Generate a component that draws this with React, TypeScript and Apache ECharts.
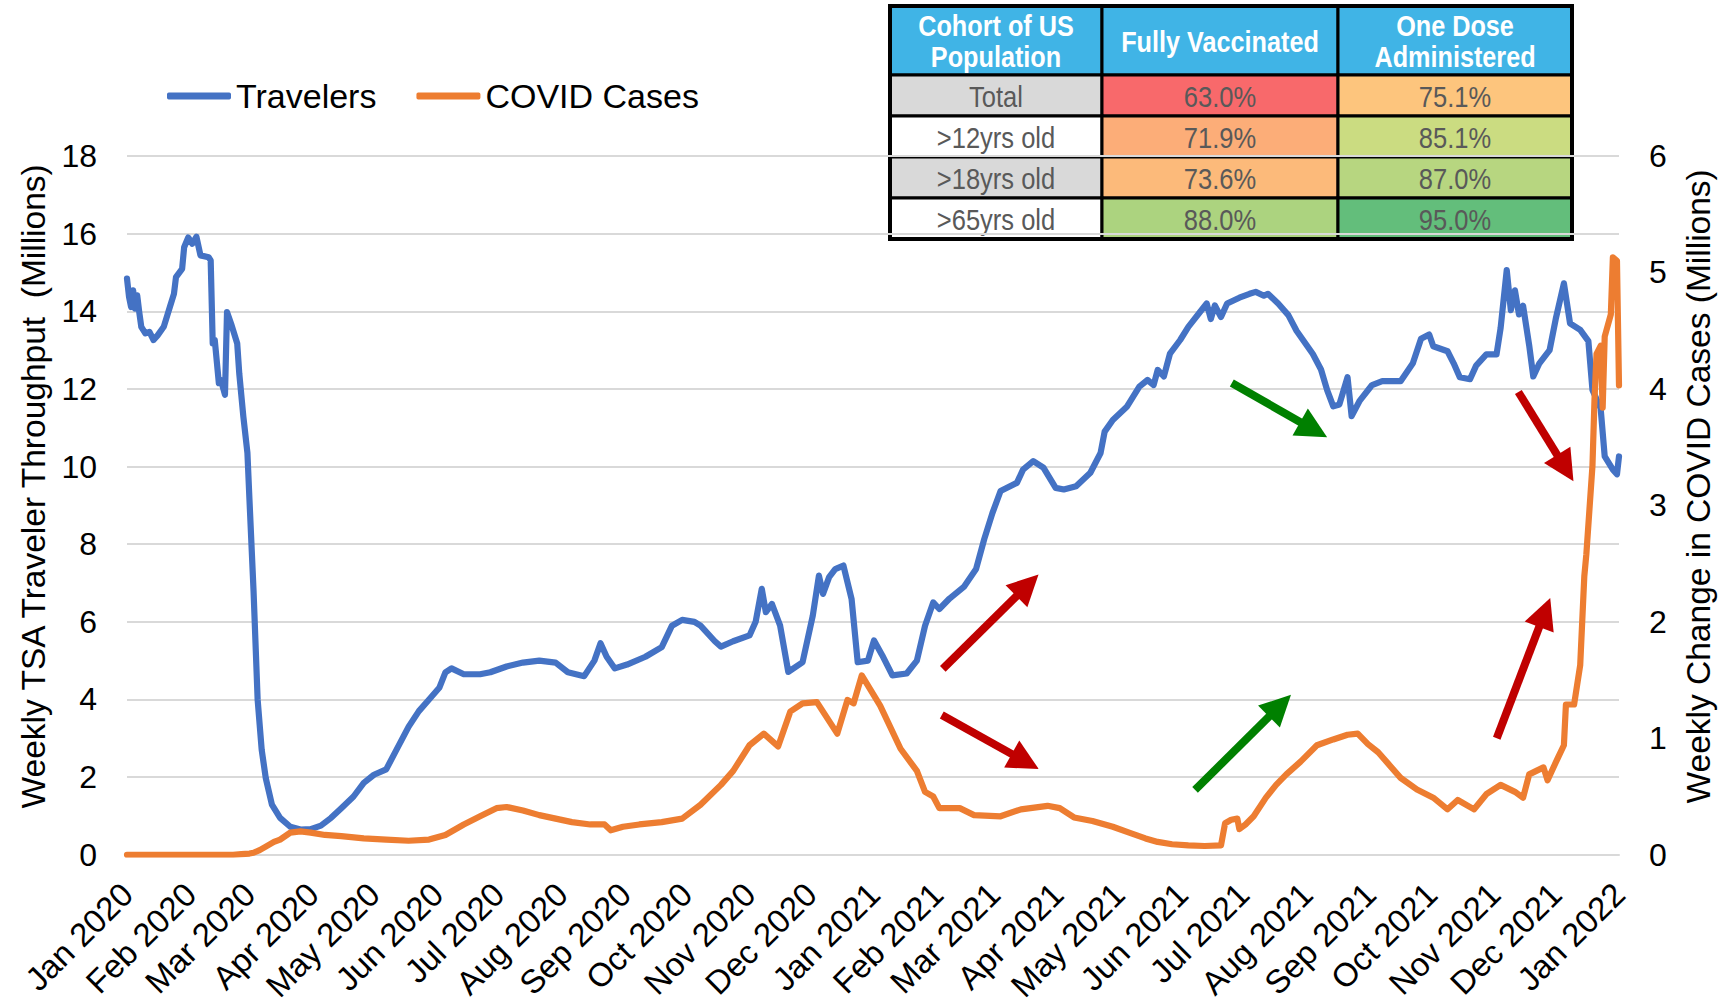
import React, { useEffect, useRef } from 'react';
import * as echarts from 'echarts';

// ---------- DATA ----------
const monthLabels = [
  'Jan 2020', 'Feb 2020', 'Mar 2020', 'Apr 2020', 'May 2020', 'Jun 2020', 'Jul 2020',
  'Aug 2020', 'Sep 2020', 'Oct 2020', 'Nov 2020', 'Dec 2020', 'Jan 2021', 'Feb 2021',
  'Mar 2021', 'Apr 2021', 'May 2021', 'Jun 2021', 'Jul 2021', 'Aug 2021', 'Sep 2021',
  'Oct 2021', 'Nov 2021', 'Dec 2021', 'Jan 2022',
];
// day offset (from 2020-01-01) of the first day of each labelled month
const monthStartDays = [0, 31, 60, 91, 121, 152, 182, 213, 244, 274, 305, 335, 366, 397, 425, 456, 486, 517, 547, 578, 609, 639, 670, 700, 731];

// Travelers (millions, left axis), x = day offset from 2020-01-01
const travelerDays = [
  0, 1, 2, 3, 4, 5, 6, 7, 9, 11, 13, 15, 18, 20, 21, 23, 24, 27, 28, 30, 32, 34, 36, 40, 41, 42, 43, 45, 46, 48,
  49, 51, 54, 55, 57, 59, 60, 62, 64, 66, 68, 71, 75, 80, 85, 90, 95, 100, 105, 111, 116, 121, 127, 132, 138, 143,
  148, 153, 156, 159, 165, 173, 178, 186, 194, 202, 210, 216, 224, 229, 232, 235, 239, 245, 254, 262, 267, 272, 278,
  281, 288, 291, 297, 305, 308, 311, 313, 316, 320, 324, 331, 336, 339, 341, 344, 347, 351, 355, 358, 363, 366, 370,
  375, 382, 387, 391, 395, 398, 403, 410, 416, 420, 424, 428, 436, 439, 444, 449, 455, 459, 465, 472, 477, 479, 483,
  490, 496, 500, 503, 505, 508, 511, 516, 520, 526, 529, 531, 533, 536, 539, 545, 550, 553, 557, 559, 564, 569, 573,
  581, 585, 588, 591, 594, 598, 600, 604, 610, 615, 620, 624, 630, 634, 638, 640, 647, 650, 653, 658, 661, 666, 671,
  673, 676, 678, 680, 682, 684, 687, 689, 692, 697, 700, 704, 707, 712, 716, 718, 722, 724, 728, 730, 731,
];
const travelerValues = [
  14.84, 14.37, 14.11, 14.54, 14.07, 14.41, 13.98, 13.6, 13.43, 13.47, 13.26, 13.38, 13.6, 13.94, 14.11, 14.45, 14.88,
  15.09, 15.65, 15.9, 15.74, 15.92, 15.44, 15.39, 15.31, 13.17, 13.26, 12.15, 12.23, 11.85,
  13.98, 13.68, 13.17, 12.4, 11.29, 10.35, 9.15, 6.8, 4.0, 2.7, 1.97, 1.29, 0.95, 0.72, 0.65, 0.66, 0.75, 0.95, 1.2,
  1.5, 1.85, 2.06, 2.2, 2.7, 3.3, 3.7,
  4.0, 4.3, 4.7, 4.8, 4.65, 4.65, 4.7, 4.85, 4.95, 5.0, 4.95, 4.7, 4.6, 5.0, 5.45, 5.1, 4.8, 4.9, 5.1, 5.35, 5.9, 6.05, 6.0,
  5.9, 5.5, 5.36, 5.5, 5.65, 6.0, 6.85, 6.25, 6.46, 5.9, 4.71, 4.96, 6.16, 7.19, 6.72, 7.15, 7.36, 7.45, 6.59, 4.96, 5.0,
  5.52, 5.14,
  4.62, 4.67, 5.0, 5.9, 6.5, 6.33, 6.6, 6.9, 7.36, 8.13, 8.8, 9.37, 9.58, 9.92, 10.14, 9.97, 9.45, 9.41, 9.49, 9.84,
  10.35, 10.9, 11.2,
  11.55, 12.06, 12.23, 12.1, 12.49, 12.32, 12.91, 13.26, 13.6, 14.0, 14.2, 13.8, 14.15, 13.85, 14.2, 14.35, 14.45, 14.5,
  14.4, 14.45, 14.2, 13.9, 13.5,
  12.9, 12.5, 11.97, 11.55, 11.6, 12.3, 11.3, 11.7, 12.1, 12.2, 12.2, 12.2, 12.66, 13.29, 13.4, 13.1, 12.97, 12.66, 12.3,
  12.25, 12.6, 12.89, 12.89,
  13.57, 15.06, 14.03, 14.54, 13.92, 14.14, 13.12, 12.32, 12.66, 13.0, 13.8, 14.72, 13.69, 13.52, 13.23, 11.97, 11.5,
  10.26, 9.92, 9.8, 10.26,
];

// Weekly change in COVID cases (millions, right axis)
const covidDays = [
  0, 52, 56, 60, 62, 65, 68, 72, 75, 80, 85, 90, 97, 105, 116, 127, 138, 148, 156, 165, 173, 181, 186, 194, 202, 210,
  218, 227, 234, 237, 243, 251, 262, 272, 281, 291, 297, 305, 312, 319, 325, 331, 338, 348, 353, 356, 360, 369, 379,
  387, 391, 395, 398, 408, 415, 428, 438, 451, 457, 464, 473, 483, 491, 499, 505, 512, 520, 528, 536, 538, 541, 544,
  545, 548, 552, 558, 563, 568, 575, 583, 591, 598, 603, 608, 613, 618, 624, 632, 640, 647, 652, 660, 666, 673, 680,
  684, 687, 694, 696, 701, 704, 705, 709, 712, 714, 715, 718, 719, 720, 722, 723, 724, 727, 728, 730, 731,
];
const covidValues = [
  0, 0, 0.005, 0.01, 0.017, 0.04, 0.07, 0.11, 0.13, 0.19, 0.2, 0.19, 0.17, 0.16, 0.14, 0.13, 0.12, 0.13, 0.17, 0.26,
  0.33, 0.4, 0.41, 0.38, 0.34, 0.31,
  0.28, 0.26, 0.26, 0.21, 0.24, 0.26, 0.28, 0.31, 0.43, 0.6, 0.72, 0.94, 1.04, 0.93, 1.23, 1.3, 1.31, 1.04, 1.33, 1.3,
  1.54, 1.28, 0.91,
  0.72, 0.54, 0.5, 0.4, 0.4, 0.34, 0.33, 0.39, 0.42, 0.4, 0.32, 0.29, 0.24, 0.19, 0.14, 0.11, 0.09, 0.08, 0.075, 0.08,
  0.27, 0.3, 0.31,
  0.22, 0.26, 0.33, 0.49, 0.6, 0.69, 0.8, 0.94, 0.99, 1.03, 1.04, 0.95, 0.88, 0.78, 0.66, 0.56, 0.49, 0.39, 0.47, 0.39,
  0.52, 0.6, 0.54,
  0.49, 0.69, 0.75, 0.64, 0.83, 0.94, 1.29, 1.29, 1.63, 2.39, 2.58, 3.34, 3.91, 4.3, 4.37, 3.84, 4.45, 4.64, 5.13, 5.1,
  4.03,
];

// Annotation arrows: [dayFrom, valueFrom, dayTo, valueTo] in left-axis units
const redArrows = [
  [399.7, 4.79, 441.2, 6.94],
  [399.2, 3.6, 440.1, 2.4],
  [671.1, 3.0, 694.6, 6.24],
  [681.7, 11.92, 704.7, 9.96],
];
const greenArrows = [
  [523.3, 1.67, 564.9, 3.84],
  [541.3, 12.15, 581.4, 10.95],
];

// Vaccination table
const tableHeaders = ['Cohort of US\nPopulation', 'Fully Vaccinated', 'One Dose\nAdministered'];
const cohortLabels = ['Total', '>12yrs old', '>18yrs old', '>65yrs old'];
const fullyVaccinated = [63.0, 71.9, 73.6, 88.0];
const oneDose = [75.1, 85.1, 87.0, 95.0];

// ---------- STYLES ----------
const FONT = '"Liberation Sans", Arial, sans-serif';
const BLUE = '#4472C4';
const ORANGE = '#ED7D31';
const RED = '#C00000';
const GREEN = '#008000';
const labelFills = ['#D9D9D9', '#FFFFFF', '#D9D9D9', '#FFFFFF'];
const fullyFills = ['#F8696B', '#FCAD78', '#FCBA7A', '#ACD37F'];
const oneDoseFills = ['#FDC57D', '#CBDC81', '#B7D680', '#63BE7B'];

function buildTable() {
  const colX = [0, 212, 448, 682];
  const rowY = [0, 69, 110, 151, 192, 233];
  const children: any[] = [];
  const cell = (c: number, r: number, fill: string) => ({
    type: 'rect',
    shape: { x: colX[c], y: rowY[r], width: colX[c + 1] - colX[c], height: rowY[r + 1] - rowY[r] },
    style: { fill, stroke: '#000', lineWidth: 3 },
  });
  const txt = (c: number, r: number, text: string, header: boolean) => ({
    type: 'text',
    x: (colX[c] + colX[c + 1]) / 2,
    y: (rowY[r] + rowY[r + 1]) / 2 + 1,
    scaleX: header ? 0.87 : 0.88,
    style: {
      text,
      fill: header ? '#FFFFFF' : '#595959',
      fontFamily: FONT,
      fontSize: header ? 29 : 29,
      fontWeight: header ? 'bold' : 'normal',
      lineHeight: 31,
      textAlign: 'center',
      textVerticalAlign: 'middle',
      align: 'center',
      verticalAlign: 'middle',
    },
  });
  for (let c = 0; c < 3; c++) {
    children.push(cell(c, 0, '#40B4E6'));
    children.push(txt(c, 0, tableHeaders[c], true));
  }
  for (let r = 0; r < cohortLabels.length; r++) {
    children.push(cell(0, r + 1, labelFills[r]));
    children.push(txt(0, r + 1, cohortLabels[r], false));
    children.push(cell(1, r + 1, fullyFills[r]));
    children.push(txt(1, r + 1, fullyVaccinated[r].toFixed(1) + '%', false));
    children.push(cell(2, r + 1, oneDoseFills[r]));
    children.push(txt(2, r + 1, oneDose[r].toFixed(1) + '%', false));
  }
  children.push({
    type: 'rect',
    shape: { x: 0, y: 0, width: colX[3], height: rowY[5] },
    style: { fill: 'none', stroke: '#000', lineWidth: 4 },
  });
  return { type: 'group', x: 890, y: 6, z: 100, children };
}

function arrowItems(list: number[][], color: string) {
  return list.map((a) => [
    { coord: [a[0], a[1]], symbol: 'none', lineStyle: { color, width: 8, type: 'solid' } },
    { coord: [a[2], a[3]], symbol: 'triangle', symbolSize: [31, 31], lineStyle: { color, width: 8, type: 'solid' } },
  ]);
}

export default function App() {
  const ref = useRef<HTMLDivElement>(null);
  useEffect(() => {
    document.body.style.margin = '0';
    if (!ref.current) return;
    const chart = echarts.init(ref.current, undefined, { renderer: 'svg' });
    const option: any = {
      animation: false,
      textStyle: { fontFamily: FONT },
      grid: { left: 127, right: 108, top: 156, bottom: 148, containLabel: false },
      legend: {
        left: 162,
        top: 74,
        itemWidth: 64,
        itemHeight: 7,
        itemGap: 40,
        icon: 'roundRect',
        textStyle: { fontSize: 34, color: '#000', fontFamily: FONT },
        data: ['Travelers', 'COVID Cases'],
        selectedMode: false,
      },
      xAxis: {
        type: 'value',
        min: 0,
        max: 731,
        axisLine: { show: true, lineStyle: { color: '#D9D9D9', width: 2 } },
        axisTick: { show: false },
        splitLine: { show: false },
        axisLabel: {
          customValues: monthStartDays,
          formatter: (v: number) => {
            const i = monthStartDays.indexOf(Math.round(v));
            return i >= 0 ? monthLabels[i] : '';
          },
          rotate: 45,
          margin: 34,
          fontSize: 33,
          color: '#000',
          fontFamily: FONT,
        },
      },
      yAxis: [
        {
          type: 'value',
          min: 0,
          max: 18,
          interval: 2,
          position: 'left',
          name: 'Weekly TSA Traveler Throughput  (Millions)',
          nameLocation: 'middle',
          nameRotate: 90,
          nameGap: 74,
          nameTextStyle: { fontSize: 33.5, color: '#000', fontFamily: FONT, padding: [0, 0, 0, 38] },
          axisLine: { show: false },
          axisTick: { show: false },
          axisLabel: { fontSize: 32, color: '#000', margin: 30, fontFamily: FONT },
          splitLine: { show: true, lineStyle: { color: '#D9D9D9', width: 2 } },
        },
        {
          type: 'value',
          min: 0,
          max: 6,
          interval: 1,
          position: 'right',
          name: 'Weekly Change in COVID Cases (Millions)',
          nameLocation: 'middle',
          nameRotate: 90,
          nameGap: 62,
          nameTextStyle: { fontSize: 33.5, color: '#000', fontFamily: FONT, padding: [0, 0, 0, 38] },
          axisLine: { show: false },
          axisTick: { show: false },
          axisLabel: { fontSize: 32, color: '#000', margin: 30, fontFamily: FONT },
          splitLine: { show: false },
        },
      ],
      series: [
        {
          name: 'Travelers',
          type: 'line',
          yAxisIndex: 0,
          data: travelerDays.map((d, i) => [d, travelerValues[i]]),
          showSymbol: false,
          symbol: 'none',
          color: BLUE,
          lineStyle: { color: BLUE, width: 6.2, join: 'round', cap: 'round' },
          z: 3,
          markLine: {
            silent: true,
            animation: false,
            symbol: ['none', 'triangle'],
            label: { show: false },
            emphasis: { disabled: true },
            data: [...arrowItems(redArrows, RED), ...arrowItems(greenArrows, GREEN)],
          },
        },
        {
          name: 'COVID Cases',
          type: 'line',
          yAxisIndex: 1,
          data: covidDays.map((d, i) => [d, covidValues[i]]),
          showSymbol: false,
          symbol: 'none',
          color: ORANGE,
          lineStyle: { color: ORANGE, width: 6.2, join: 'round', cap: 'round' },
          z: 4,
        },
      ],
      graphic: [buildTable()],
    };
    chart.setOption(option);
    return () => chart.dispose();
  }, []);
  return <div ref={ref} style={{ width: 1727, height: 1005 }} />;
}
